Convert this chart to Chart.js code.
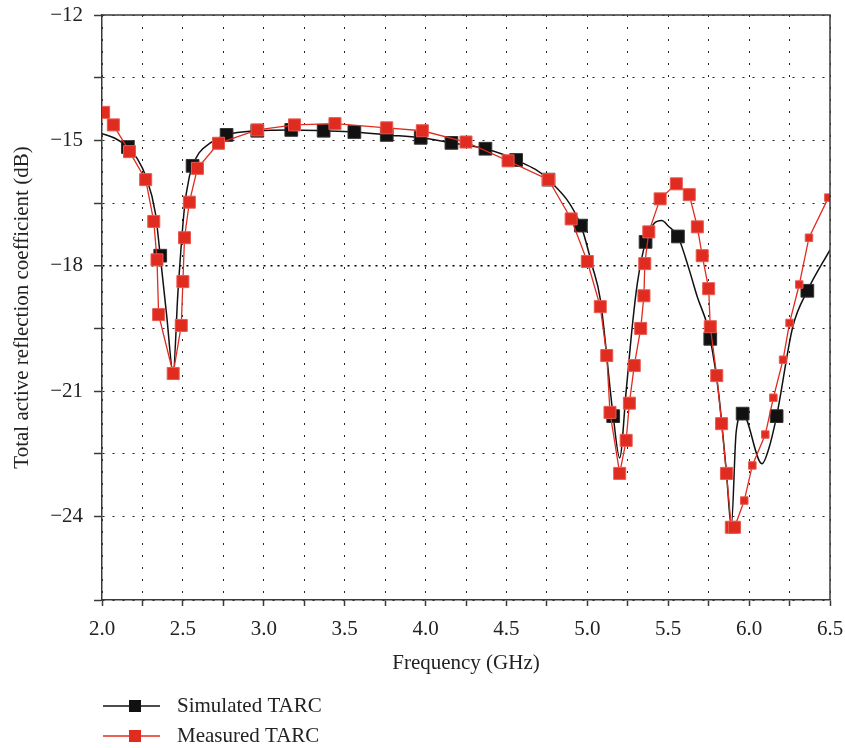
<!DOCTYPE html>
<html>
<head>
<meta charset="utf-8">
<script src="https://cdn.jsdelivr.net/npm/chart.js@4"></script>
<style>
  html, body { margin: 0; padding: 0; background: #fff; }
  #wrap { width: 845px; height: 748px; }
</style>
</head>
<body>
<div id="wrap"><canvas id="tarcChart" width="845" height="748"></canvas></div>
<script>
// Simulated TARC (smooth curve, markers only at some frequencies)
const simFreq = [2.00, 2.08, 2.16, 2.22, 2.27, 2.33, 2.36, 2.40, 2.44, 2.47, 2.51, 2.54, 2.56, 2.60, 2.67,
  2.77, 2.96, 3.17, 3.37, 3.56, 3.76, 3.97, 4.16, 4.37, 4.56, 4.76, 4.96, 5.03, 5.08, 5.16, 5.20,
  5.24, 5.28, 5.31, 5.36, 5.41, 5.46, 5.50, 5.56, 5.63, 5.68, 5.74, 5.76, 5.81, 5.86, 5.89, 5.92,
  5.96, 6.08, 6.12, 6.17, 6.27, 6.36, 6.50];
const simTarc = [-14.84, -14.95, -15.16, -15.45, -15.85, -16.74, -17.76, -19.2, -20.55, -18.6, -16.6, -15.87, -15.61, -15.3, -15.06,
  -14.87, -14.77, -14.75, -14.77, -14.80, -14.87, -14.94, -15.06, -15.20, -15.47, -15.94, -17.04, -18.0, -18.8, -21.6, -22.6,
  -21.0, -19.37, -18.4, -17.43, -17.0, -16.92, -17.05, -17.30, -18.1, -18.75, -19.4, -19.75, -21.0, -22.96, -24.24, -21.98,
  -21.54, -22.74, -22.4, -21.6, -19.46, -18.60, -17.62];
const simMarkerFreq = [2.16, 2.36, 2.56, 2.77, 2.96, 3.17, 3.37, 3.56, 3.76, 3.97, 4.16, 4.37, 4.56, 4.76,
  4.96, 5.16, 5.36, 5.56, 5.76, 5.96, 6.17, 6.36];

// Measured TARC (every point marked)
const measFreq = [2.01, 2.07, 2.17, 2.27, 2.32, 2.34, 2.35, 2.44, 2.49, 2.50, 2.51, 2.54, 2.59, 2.72, 2.96,
  3.19, 3.44, 3.76, 3.98, 4.25, 4.51, 4.76, 4.90, 5.00, 5.08, 5.12, 5.14, 5.20, 5.24, 5.26, 5.29,
  5.33, 5.35, 5.355, 5.38, 5.45, 5.55, 5.63, 5.68, 5.71, 5.75, 5.76, 5.80, 5.83, 5.86, 5.89, 5.91,
  5.97, 6.02, 6.10, 6.15, 6.21, 6.25, 6.31, 6.37, 6.49];
const measTarc = [-14.33, -14.63, -15.27, -15.94, -16.94, -17.86, -19.17, -20.58, -19.43, -18.38, -17.33, -16.48, -15.67, -15.07, -14.75,
  -14.63, -14.60, -14.70, -14.77, -15.04, -15.49, -15.94, -16.88, -17.90, -18.98, -20.15, -21.51, -22.97, -22.18, -21.29, -20.39,
  -19.50, -18.72, -17.95, -17.19, -16.40, -16.04, -16.30, -17.07, -17.76, -18.55, -19.46, -20.63, -21.78, -22.97, -24.26, -24.26,
  -23.62, -22.78, -22.04, -21.16, -20.25, -19.37, -18.45, -17.33, -16.37];

const seriesNames = ['Simulated TARC', 'Measured TARC'];
const xTickLabels = ['2.0', '2.5', '3.0', '3.5', '4.0', '4.5', '5.0', '5.5', '6.0', '6.5'];
const yTickLabels = [-12, -15, -18, -21, -24];

const SERIF = '"Liberation Serif", "DejaVu Serif", serif';
const RED = '#e02b20';
const BLACK = '#111111';

// frame (top/right) and the line+marker legend under the axis
const frameAndLegend = {
  id: 'frameAndLegend',
  afterDraw(chart) {
    const { ctx, chartArea: a } = chart;
    ctx.save();
    ctx.strokeStyle = '#3a3a3a';
    ctx.lineWidth = 1.5;
    ctx.beginPath();
    ctx.moveTo(a.left, a.top);
    ctx.lineTo(a.right, a.top);
    ctx.lineTo(a.right, a.bottom);
    ctx.stroke();

    const items = [
      { label: seriesNames[0], color: BLACK, y: 706 },
      { label: seriesNames[1], color: RED, y: 736 }
    ];
    items.forEach(it => {
      ctx.strokeStyle = it.color;
      ctx.lineWidth = 1.3;
      ctx.beginPath();
      ctx.moveTo(103, it.y);
      ctx.lineTo(160, it.y);
      ctx.stroke();
      ctx.fillStyle = it.color;
      ctx.fillRect(129, it.y - 6, 12, 12);
      ctx.fillStyle = '#222';
      ctx.font = '21px ' + SERIF;
      ctx.textBaseline = 'middle';
      ctx.textAlign = 'left';
      ctx.fillText(it.label, 177, it.y);
    });
    ctx.restore();
  }
};

const ctx = document.getElementById('tarcChart').getContext('2d');
const chart = new Chart(ctx, {
  type: 'line',
  data: {
    datasets: [
      {
        label: seriesNames[1],
        data: measFreq.map((f, i) => ({ x: f, y: measTarc[i] })),
        borderColor: RED,
        borderWidth: 1.3,
        tension: 0,
        pointStyle: 'rect',
        pointBackgroundColor: RED,
        pointBorderColor: '#ea5a50',
        pointBorderWidth: 1,
        pointRadius: c => (measFreq[c.dataIndex] > 5.95 ? 5.3 : 8.5)
      },
      {
        label: seriesNames[0],
        data: simFreq.map((f, i) => ({ x: f, y: simTarc[i] })),
        borderColor: BLACK,
        borderWidth: 1.5,
        cubicInterpolationMode: 'monotone',
        pointStyle: 'rect',
        pointBackgroundColor: BLACK,
        pointBorderColor: '#333',
        pointBorderWidth: 1,
        pointRadius: c => (simMarkerFreq.includes(simFreq[c.dataIndex]) ? 9 : 0)
      }
    ]
  },
  options: {
    responsive: false,
    animation: false,
    devicePixelRatio: 1,
    layout: { padding: { left: 0, right: 15, top: 15, bottom: 72 } },
    plugins: {
      legend: { display: false },
      tooltip: { enabled: false }
    },
    scales: {
      x: {
        type: 'linear',
        min: 2,
        max: 6.5,
        afterFit: s => { s.height = 76; s.paddingLeft = 0; s.paddingRight = 0; },
        ticks: {
          stepSize: 0.25,
          autoSkip: false,
          maxRotation: 0,
          padding: 11,
          color: '#222',
          font: { family: SERIF, size: 21 },
          callback: v => {
            const s = v.toFixed(1);
            return Math.abs(v * 2 - Math.round(v * 2)) < 1e-6 && xTickLabels.includes(s) ? s : '';
          }
        },
        grid: { color: '#222', lineWidth: 1, tickLength: 6, tickColor: '#3a3a3a', tickWidth: 1.5 },
        border: { display: true, color: '#3a3a3a', width: 1.5, dash: [2, 10] },
        title: {
          display: true,
          text: 'Frequency (GHz)',
          color: '#222',
          font: { family: SERIF, size: 21 },
          padding: { top: 0, bottom: 0 }
        }
      },
      y: {
        min: -26,
        max: -12,
        afterFit: s => { s.width = 102; s.paddingTop = 0; s.paddingBottom = 0; },
        ticks: {
          stepSize: 1.5,
          autoSkip: false,
          padding: 11,
          color: '#222',
          font: { family: SERIF, size: 21 },
          callback: v => (yTickLabels.some(t => Math.abs(t - v) < 1e-6) ? '\u2212' + Math.abs(v) : '')
        },
        grid: {
          color: c => (c.tick && Math.abs(c.tick.value + 18) < 1e-6 ? '#000' : '#222'),
          lineWidth: c => (c.tick && Math.abs(c.tick.value + 18) < 1e-6 ? 1.5 : 1),
          tickLength: 8,
          tickColor: '#3a3a3a',
          tickWidth: 1.5
        },
        border: {
          display: true,
          color: '#3a3a3a',
          width: 1.5,
          dash: c => (c.tick && Math.abs(c.tick.value + 18) < 1e-6 ? [2, 5] : [2, 8])
        },
        title: {
          display: true,
          text: 'Total active reflection coefficient (dB)',
          color: '#222',
          font: { family: SERIF, size: 21 },
          padding: { top: 10, bottom: 0 }
        }
      }
    }
  },
  plugins: [frameAndLegend]
});
</script>
</body>
</html>
